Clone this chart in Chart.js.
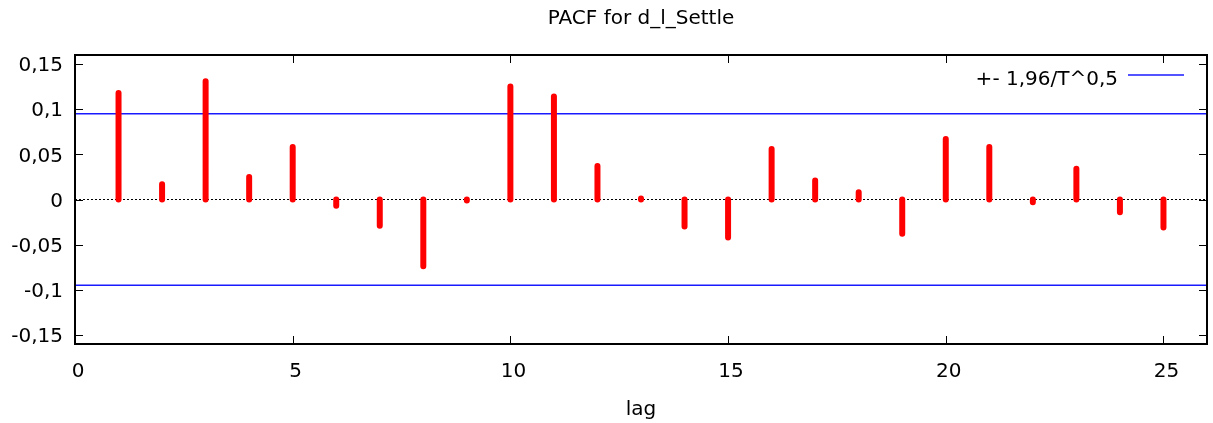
<!DOCTYPE html>
<html>
<head>
<meta charset="utf-8">
<title>PACF for d_l_Settle</title>
<script src="https://cdn.jsdelivr.net/npm/chart.js@4/dist/chart.umd.min.js"></script>
<style>
  html, body { margin: 0; padding: 0; background: #ffffff; }
  canvas { display: block; }
</style>
</head>
<body>
<canvas id="pacf" width="1213" height="423"></canvas>
<script>
// Partial autocorrelations by lag
const lags = [1, 2, 3, 4, 5, 6, 7, 8, 9, 10, 11, 12, 13, 14, 15, 16, 17, 18, 19, 20, 21, 22, 23, 24, 25];
const pacfValues = [0.118, 0.017, 0.131, 0.025, 0.058, -0.007, -0.029, -0.074, -0.001, 0.125,
                    0.114, 0.037, 0.001, -0.030, -0.042, 0.056, 0.021, 0.008, -0.038, 0.067,
                    0.058, -0.003, 0.034, -0.014, -0.031];

// Significance band +- 1.96/sqrt(T)
const bandValue = 0.095;
const bandLabel = '+- 1,96/T^0,5';

// Axis ranges and tick labels
const xRange = [0, 26];
const yRange = [-0.16, 0.16];
const xTicks = [0, 5, 10, 15, 20, 25];
const yTicks = [-0.15, -0.1, -0.05, 0, 0.05, 0.1, 0.15];

const chartTitle = 'PACF for d_l_Settle';
const xTitle = 'lag';

const FONT = '"DejaVu Sans", Verdana, sans-serif';
const FONT_SIZE = 20;
const RED = '#ff0000';
const BLUE = '#1a1aff';

// Each impulse is a vertical segment from 0 to the value; null breaks the line between lags
const impulsePoints = [];
lags.forEach((lag, i) => {
  impulsePoints.push({ x: lag, y: 0 }, { x: lag, y: pacfValues[i] }, { x: lag, y: null });
});

const fmtDecimal = v => {
  const r = Math.round(v * 1000) / 1000;
  return String(r).replace('.', ',');
};

// Frame, inward ticks on all four sides, and the key in the upper right
const framePlugin = {
  id: 'gpFrame',
  afterDatasetsDraw(chart) {
    const { ctx, chartArea } = chart;
    const { left, right, top, bottom } = chartArea;
    const xs = chart.scales.x, ys = chart.scales.y;
    ctx.save();
    ctx.strokeStyle = '#000000';
    ctx.lineWidth = 1;
    ctx.beginPath();
    xs.ticks.forEach(t => {
      const px = Math.round(xs.getPixelForValue(t.value)) + 0.5;
      ctx.moveTo(px, bottom); ctx.lineTo(px, bottom - 8);
      ctx.moveTo(px, top); ctx.lineTo(px, top + 8);
    });
    ys.ticks.forEach(t => {
      const py = Math.round(ys.getPixelForValue(t.value)) + 0.5;
      ctx.moveTo(left, py); ctx.lineTo(left + 8, py);
      ctx.moveTo(right, py); ctx.lineTo(right - 8, py);
    });
    ctx.stroke();
    ctx.lineWidth = 2;
    ctx.strokeRect(left, top, right - left, bottom - top);

    // key
    const band = chart.data.datasets[1];
    ctx.font = FONT_SIZE + 'px ' + FONT;
    ctx.fillStyle = '#000000';
    ctx.textAlign = 'right';
    ctx.textBaseline = 'alphabetic';
    ctx.fillText(bandLabel, right - 89, top + 29.5);
    ctx.strokeStyle = band.borderColor;
    ctx.lineWidth = band.borderWidth;
    ctx.beginPath();
    ctx.moveTo(right - 79, top + 20);
    ctx.lineTo(right - 23, top + 20);
    ctx.stroke();
    ctx.restore();
  }
};

new Chart(document.getElementById('pacf'), {
  type: 'line',
  data: {
    datasets: [
      {
        label: 'PACF',
        data: impulsePoints,
        borderColor: RED,
        borderWidth: 6,
        borderCapStyle: 'round',
        borderJoinStyle: 'round',
        pointRadius: 0,
        spanGaps: false,
        tension: 0
      },
      {
        label: bandLabel,
        data: [{ x: xRange[0], y: bandValue }, { x: xRange[1], y: bandValue }],
        borderColor: BLUE,
        borderWidth: 1.5,
        pointRadius: 0
      },
      {
        label: bandLabel,
        data: [{ x: xRange[0], y: -bandValue }, { x: xRange[1], y: -bandValue }],
        borderColor: BLUE,
        borderWidth: 1.5,
        pointRadius: 0
      },
      {
        label: 'zero',
        data: [{ x: xRange[0], y: 0 }, { x: xRange[1], y: 0 }],
        borderColor: '#000000',
        borderWidth: 1,
        borderDash: [2, 2],
        pointRadius: 0
      }
    ]
  },
  options: {
    responsive: false,
    devicePixelRatio: 1,
    animation: false,
    events: [],
    layout: { padding: { left: 0, right: 6, top: 0, bottom: 0 } },
    plugins: {
      legend: { display: false },
      title: { display: false },
      tooltip: { enabled: false }
    },
    scales: {
      x: {
        type: 'linear',
        position: 'bottom',
        min: xRange[0],
        max: xRange[1],
        afterBuildTicks: s => { s.ticks = xTicks.map(v => ({ value: v })); },
        afterFit: s => { s.height = 79; },
        grid: { display: false, drawTicks: false },
        border: { display: false },
        ticks: {
          color: '#000000',
          font: { family: FONT, size: FONT_SIZE },
          padding: 16,
          labelOffset: 3,
          maxRotation: 0,
          callback: v => fmtDecimal(v)
        },
        title: {
          display: true,
          text: xTitle,
          color: '#000000',
          font: { family: FONT, size: FONT_SIZE },
          padding: { top: 0, bottom: 1 }
        }
      },
      top: {
        type: 'linear',
        position: 'top',
        min: xRange[0],
        max: xRange[1],
        afterFit: s => { s.height = 55; },
        grid: { display: false, drawTicks: false },
        border: { display: false },
        ticks: { display: false },
        title: {
          display: true,
          text: chartTitle,
          color: '#000000',
          font: { family: FONT, size: FONT_SIZE },
          padding: { top: 7, bottom: 0 }
        }
      },
      y: {
        type: 'linear',
        min: yRange[0],
        max: yRange[1],
        afterBuildTicks: s => { s.ticks = yTicks.map(v => ({ value: v })); },
        afterFit: s => { s.width = 75; },
        grid: { display: false, drawTicks: false },
        border: { display: false },
        ticks: {
          color: '#000000',
          font: { family: FONT, size: FONT_SIZE },
          padding: 12,
          labelOffset: 2,
          callback: v => fmtDecimal(v)
        }
      }
    }
  },
  plugins: [framePlugin]
});
</script>
</body>
</html>
